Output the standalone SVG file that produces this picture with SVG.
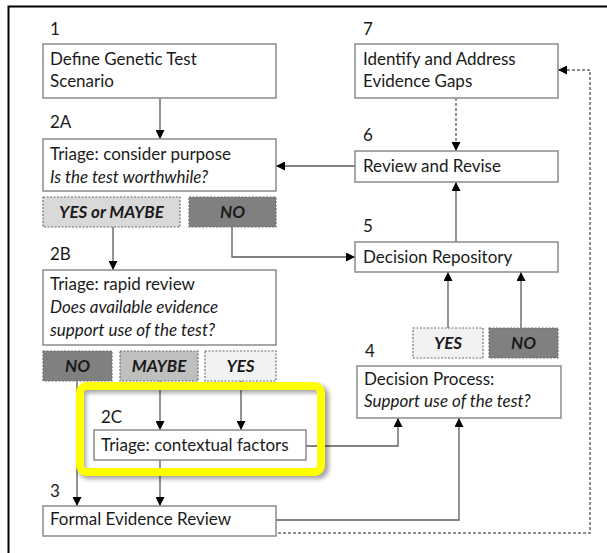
<svg xmlns="http://www.w3.org/2000/svg" width="607" height="553" viewBox="0 0 607 553">
<defs>
<style>
.box{fill:#fff;stroke:#8a8a8a;stroke-width:1.5}
.t{font-family:Lato,"Liberation Sans",sans-serif;font-size:17px;fill:#1a1a1a}
.i{font-style:italic}
.lab{font-family:Lato,"Liberation Sans",sans-serif;font-size:17px;font-weight:bold;font-style:italic;fill:#1a1a1a;text-anchor:middle}
.opt{stroke:#6f6f6f;stroke-width:1.2;stroke-dasharray:2,1.5}
.ln{fill:none;stroke:#5a5a5a;stroke-width:1.3}
.dot{fill:none;stroke:#6a6a6a;stroke-width:1.5;stroke-dasharray:3,2}
</style>
<marker id="ah" viewBox="0 0 10 10" refX="10" refY="5" markerWidth="9" markerHeight="9" markerUnits="userSpaceOnUse" orient="auto">
<path d="M0,0 L10,5 L0,10 Z" fill="#000"/>
</marker>
<filter id="sh" x="-10%" y="-20%" width="120%" height="140%">
<feGaussianBlur stdDeviation="2"/>
</filter>
</defs>
<rect x="0" y="0" width="607" height="553" fill="#fff"/>
<path d="M8.5,553 L8.5,6.5 L607,6.5" fill="none" stroke="#000" stroke-width="2"/>

<g id="connectors">
<line class="ln" x1="160" y1="98" x2="160" y2="139" marker-end="url(#ah)"/>
<line class="ln" x1="355" y1="166" x2="276" y2="166" marker-end="url(#ah)"/>
<line class="ln" x1="456" y1="98" x2="456" y2="151" stroke-dasharray="3,2" marker-end="url(#ah)"/>
<line class="ln" x1="456" y1="242" x2="456" y2="182" marker-end="url(#ah)"/>
<line class="ln" x1="113" y1="227" x2="113" y2="270" marker-end="url(#ah)"/>
<polyline class="ln" points="232,227 232,257 355,257" marker-end="url(#ah)"/>
<line class="ln" x1="448" y1="328" x2="448" y2="272" marker-end="url(#ah)"/>
<line class="ln" x1="521" y1="328" x2="521" y2="272" marker-end="url(#ah)"/>
<line class="ln" x1="77" y1="381" x2="77" y2="506" marker-end="url(#ah)"/>
<line class="ln" x1="160" y1="381" x2="160" y2="430" marker-end="url(#ah)"/>
<line class="ln" x1="241" y1="381" x2="241" y2="430" marker-end="url(#ah)"/>
<line class="ln" x1="160" y1="460" x2="160" y2="506" marker-end="url(#ah)"/>
<polyline class="ln" points="306,446 398,446 398,418" marker-end="url(#ah)"/>
<polyline class="ln" points="276,520 459,520 459,418" marker-end="url(#ah)"/>
<polyline class="dot" points="278,533 590,533 590,70 558,70" marker-end="url(#ah)"/>
</g>

<g id="highlight">
<rect x="82" y="389" width="243" height="86" rx="7" fill="none" stroke="#000" stroke-opacity="0.35" stroke-width="8" filter="url(#sh)"/>
<rect x="80" y="386" width="241" height="86" rx="7" fill="none" stroke="#ffff00" stroke-width="8"/>
</g>

<g id="n1">
<text class="t" x="50" y="35">1</text>
<rect class="box" x="43" y="44" width="233" height="54"/>
<text class="t" x="50" y="65">Define Genetic Test</text>
<text class="t" x="50" y="87">Scenario</text>
</g>
<g id="n2A">
<text class="t" x="50" y="128">2A</text>
<rect class="box" x="43" y="139" width="233" height="52"/>
<text class="t" x="50" y="160">Triage: consider purpose</text>
<text class="t i" x="50" y="183">Is the test worthwhile?</text>
</g>
<g id="o2A-yes">
<rect class="opt" x="43" y="197" width="137" height="30" fill="#d9d9d9"/>
<text class="lab" x="111.5" y="218">YES or MAYBE</text>
</g>
<g id="o2A-no">
<rect class="opt" x="189" y="197" width="87" height="30" fill="#808080"/>
<text class="lab" x="232.5" y="218">NO</text>
</g>
<g id="n2B">
<text class="t" x="50" y="260">2B</text>
<rect class="box" x="43" y="270" width="233" height="75"/>
<text class="t" x="50" y="290">Triage: rapid review</text>
<text class="t i" x="50" y="313">Does available evidence</text>
<text class="t i" x="50" y="336">support use of the test?</text>
</g>
<g id="o2B-no">
<rect class="opt" x="43" y="351" width="69" height="30" fill="#808080"/>
<text class="lab" x="77.5" y="372">NO</text>
</g>
<g id="o2B-maybe">
<rect class="opt" x="120" y="351" width="78" height="30" fill="#bfbfbf"/>
<text class="lab" x="159" y="372">MAYBE</text>
</g>
<g id="o2B-yes">
<rect class="opt" x="205" y="351" width="71" height="30" fill="#f2f2f2"/>
<text class="lab" x="240.5" y="372">YES</text>
</g>
<g id="n2C">
<text class="t" x="101" y="423">2C</text>
<rect class="box" x="94" y="430" width="212" height="30"/>
<text class="t" x="101" y="451">Triage: contextual factors</text>
</g>
<g id="n3">
<text class="t" x="50" y="497">3</text>
<rect class="box" x="43" y="506" width="233" height="30"/>
<text class="t" x="50" y="525">Formal Evidence Review</text>
</g>
<g id="n7">
<text class="t" x="363" y="35">7</text>
<rect class="box" x="355" y="44" width="203" height="54"/>
<text class="t" x="363" y="65">Identify and Address</text>
<text class="t" x="363" y="87">Evidence Gaps</text>
</g>
<g id="n6">
<text class="t" x="363" y="141">6</text>
<rect class="box" x="355" y="151" width="203" height="31"/>
<text class="t" x="363" y="172">Review and Revise</text>
</g>
<g id="n5">
<text class="t" x="363" y="232">5</text>
<rect class="box" x="355" y="242" width="203" height="30"/>
<text class="t" x="363" y="263">Decision Repository</text>
</g>
<g id="o4-yes">
<rect class="opt" x="413" y="328" width="70" height="30" fill="#f2f2f2"/>
<text class="lab" x="448" y="349">YES</text>
</g>
<g id="o4-no">
<rect class="opt" x="489" y="328" width="69" height="30" fill="#808080"/>
<text class="lab" x="523.5" y="349">NO</text>
</g>
<g id="n4">
<text class="t" x="365" y="357">4</text>
<rect class="box" x="357" y="366" width="204" height="52"/>
<text class="t" x="364" y="385">Decision Process:</text>
<text class="t i" x="364" y="407">Support use of the test?</text>
</g>
</svg>
